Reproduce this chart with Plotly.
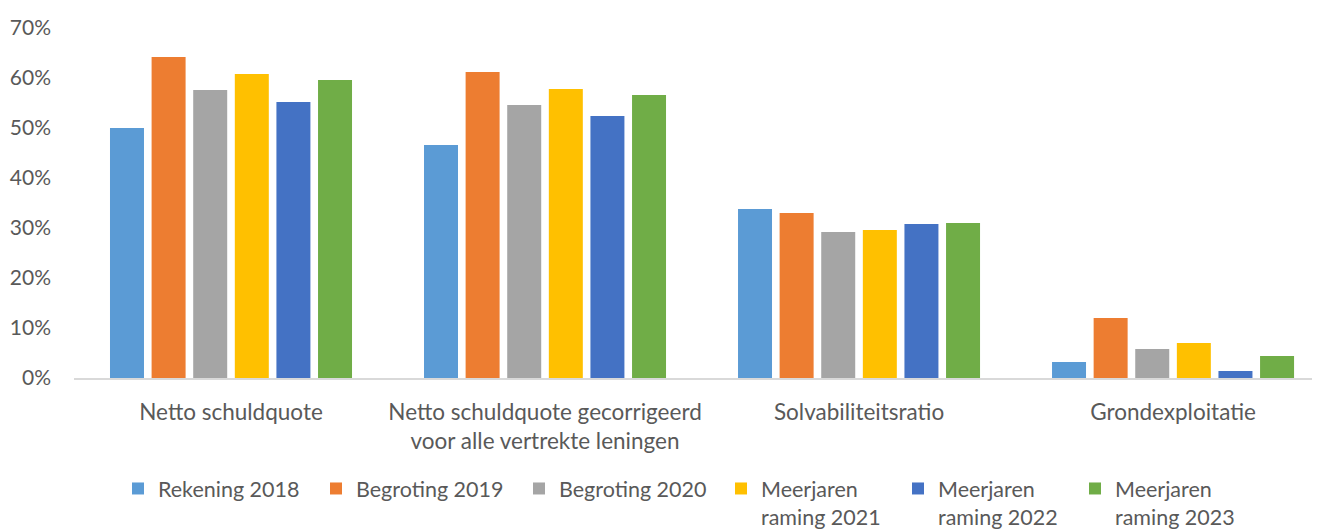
import plotly.graph_objects as go

categories = ["Netto schuldquote",
              "Netto schuldquote gecorrigeerd<br>voor alle vertrekte leningen",
              "Solvabiliteitsratio",
              "Grondexploitatie"]
series_names = ["Rekening 2018", "Begroting 2019", "Begroting 2020",
                "Meerjaren<br>raming 2021", "Meerjaren<br>raming 2022", "Meerjaren<br>raming 2023"]
rekening_2018 = [0.500, 0.466, 0.338, 0.032]
begroting_2019 = [0.642, 0.612, 0.330, 0.120]
begroting_2020 = [0.576, 0.546, 0.292, 0.058]
raming_2021 = [0.608, 0.578, 0.296, 0.070]
raming_2022 = [0.552, 0.524, 0.308, 0.014]
raming_2023 = [0.596, 0.566, 0.310, 0.044]
colors = ["#5B9BD5", "#ED7D31", "#A5A5A5", "#FFC000", "#4472C4", "#70AD47"]

values = [rekening_2018, begroting_2019, begroting_2020, raming_2021, raming_2022, raming_2023]

# page body has an 8px margin, so the figure is sized/placed to compensate
W, H = 1312, 523
legend_left_px = [110, 308, 511, 713, 890, 1067]
legend_top_px = 460

fig = go.Figure()
legend_layout = {}
for i, (name, vals, c) in enumerate(zip(series_names, values, colors)):
    key = "legend" if i == 0 else f"legend{i+1}"
    fig.add_trace(go.Bar(x=categories, y=vals, name=name, marker_color=c,
                         marker_line_width=0, legend=key, showlegend=True))
    legend_layout[key] = dict(
        xref="container", yref="container",
        x=legend_left_px[i] / W, xanchor="left",
        y=1 - legend_top_px / H, yanchor="top",
        font=dict(size=21.5, color="#595959"), valign="top",
        itemwidth=30, bgcolor="rgba(0,0,0,0)", borderwidth=0,
        visible=True,
    )

font = "Lato, 'Open Sans', sans-serif"
fs = 22.5
fig.update_layout(
    width=W, height=H,
    showlegend=True,
    margin=dict(l=66, r=0, t=20, b=153, autoexpand=False),
    plot_bgcolor="white", paper_bgcolor="white",
    barmode="group", bargap=0.205, bargroupgap=0.183,
    font=dict(family=font, size=fs, color="#595959"),
    xaxis=dict(range=[-0.5, 3.468], showline=True, linecolor="#D9D9D9", linewidth=1.5,
               ticks="", automargin=False, ticklabelstandoff=13,
               tickfont=dict(size=fs, color="#595959")),
    yaxis=dict(range=[0, 0.7], tickvals=[0, .1, .2, .3, .4, .5, .6, .7], tickformat=".0%",
               showgrid=False, zeroline=False, ticks="", automargin=False,
               ticklabelstandoff=22, tickfont=dict(size=21, color="#595959")),
    **legend_layout,
)
fig.write_html("out.html")
